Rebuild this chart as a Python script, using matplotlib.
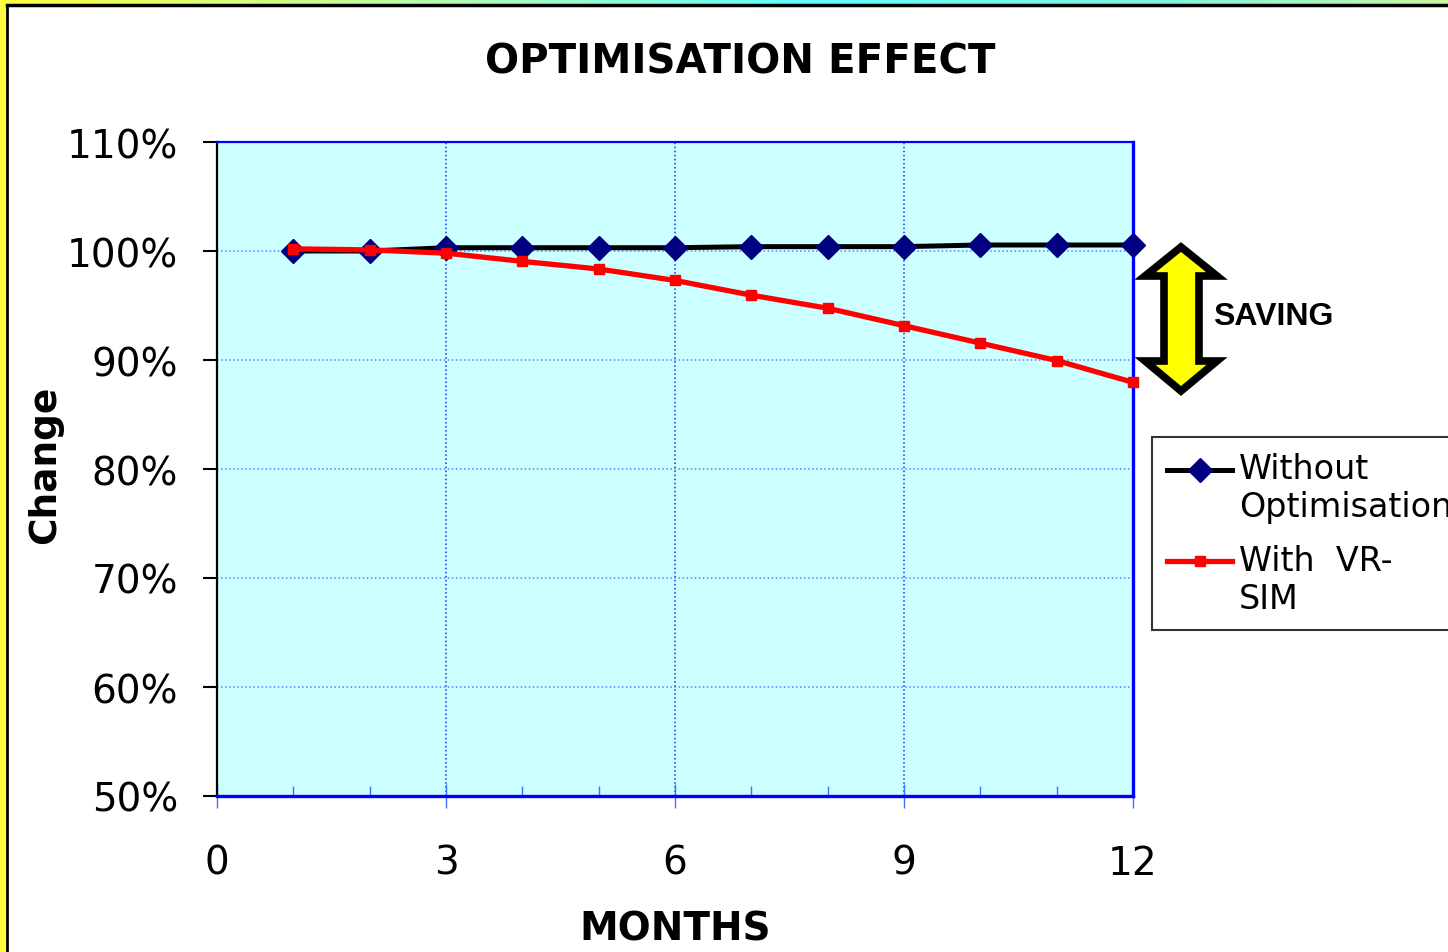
import numpy as np
import matplotlib
matplotlib.use('Agg')
import matplotlib.pyplot as plt
from matplotlib.patches import Polygon, Rectangle
from matplotlib.lines import Line2D
from matplotlib.ticker import PercentFormatter, MultipleLocator
from matplotlib.colors import LinearSegmentedColormap
from matplotlib.legend_handler import HandlerLine2D

# data
months = [1, 2, 3, 4, 5, 6, 7, 8, 9, 10, 11, 12]
without_opt = [100.0, 100.0, 100.3, 100.3, 100.3, 100.3, 100.4, 100.4, 100.4, 100.55, 100.55, 100.55]
with_vrsim = [100.2, 100.1, 99.8, 99.05, 98.35, 97.3, 95.95, 94.75, 93.15, 91.55, 89.95, 87.95]
x_ticks = [0, 3, 6, 9, 12]
y_ticks = [50, 60, 70, 80, 90, 100, 110]

W, H = 1448, 953


def px(x, y):
    # pixel position -> figure fraction
    return (x / W, 1 - y / H)


class TopLineHandler(HandlerLine2D):
    # put the legend line next to the first text line, not the middle
    def create_artists(self, legend, orig_handle, xdescent, ydescent,
                       width, height, fontsize, trans):
        arts = super().create_artists(legend, orig_handle, xdescent, ydescent,
                                      width, height, fontsize, trans)
        for a in arts:
            a.set_ydata(np.asarray(a.get_ydata()) + 0.58 * fontsize)
        return arts


def main():
    plt.rcParams['font.family'] = 'DejaVu Sans'
    fig = plt.figure(figsize=(W / 100, H / 100), dpi=100)
    fig.patch.set_facecolor('white')

    ax = fig.add_axes([217 / W, 1 - 797 / H, (1133 - 217) / W, (797 - 143) / H])
    ax.set_facecolor('#ccffff')

    ax.plot(months, without_opt, color='black', lw=3.6, marker='D', ms=12,
            mfc='#000080', mec='#000080', label='Without\nOptimisation', zorder=3, clip_on=False)
    ax.plot(months, with_vrsim, color='#ff0000', lw=3.8, marker='s', ms=6.5,
            mfc='#ff0000', mec='#ff0000', label='With  VR-\nSIM', zorder=4, clip_on=False)

    ax.set_xlim(0, 12)
    ax.set_ylim(50, 110)
    ax.set_xticks(x_ticks)
    ax.set_yticks(y_ticks)
    ax.xaxis.set_minor_locator(MultipleLocator(1))
    ax.yaxis.set_major_formatter(PercentFormatter(xmax=100, decimals=0))

    ax.grid(True, which='major', axis='x', color='#1030ff', ls=':', lw=1.1)
    ax.grid(True, which='major', axis='y', color='#6080ff', ls=':', lw=1.1)

    ax.tick_params(axis='y', which='major', direction='out', length=10, width=1.5,
                   color='black', labelsize=28, pad=18)
    ax.tick_params(axis='x', which='major', direction='inout', length=17, width=1,
                   color='#4070ff', labelsize=28, pad=26)
    ax.tick_params(axis='x', which='minor', direction='in', length=7, width=1,
                   color='#4070ff')

    ax.spines['left'].set_color('black')
    ax.spines['left'].set_linewidth(1.6)
    for s, lw in (('bottom', 2.4), ('right', 2.4), ('top', 1.6)):
        ax.spines[s].set_color('#0000ff')
        ax.spines[s].set_linewidth(lw)

    ax.set_xlabel('MONTHS', fontsize=28, fontweight='bold', labelpad=20)
    ax.set_ylabel('Change', fontsize=27, fontweight='bold')
    ax.yaxis.set_label_coords((63 - 217) / 916, (797 - 465) / 654)

    fig.text(740 / W, 1 - 63 / H, 'OPTIMISATION EFFECT', fontsize=29,
             fontweight='bold', ha='center', va='center')

    leg = ax.legend(loc='upper left', bbox_to_anchor=px(1152, 438),
                    bbox_transform=fig.transFigure, fontsize=24, frameon=True,
                    fancybox=False, edgecolor='black', handlelength=1.95,
                    handletextpad=0.2, borderaxespad=0, borderpad=0.45,
                    labelspacing=0.62,
                    handler_map={Line2D: TopLineHandler()})
    leg.get_frame().set_linewidth(1.5)

    # saving double arrow
    arrow_pts = [(1181, 248), (1217, 277), (1199, 277), (1199, 362), (1217, 362),
                 (1181, 392), (1145, 362), (1164, 362), (1164, 277), (1145, 277)]
    fig.patches.append(Polygon([px(x, y) for x, y in arrow_pts], closed=True,
                               transform=fig.transFigure, facecolor='#ffff00',
                               edgecolor='black', lw=5.5, joinstyle='miter'))
    fig.text(1213 / W, 1 - 317 / H, 'SAVING', fontsize=23, fontweight='bold',
             family='Liberation Sans', ha='left', va='center')

    # slide frame: yellow strip on the left, gradient strip on top
    fig.patches.append(Rectangle((0, 0), 6 / W, 1, transform=fig.transFigure,
                                 facecolor='#ffff40', edgecolor='none'))
    cmap = LinearSegmentedColormap.from_list(
        'top', [(0, '#ffff40'), (0.35, '#a8ffc0'), (0.55, '#60ffff'),
                (0.8, '#80f4e0'), (1.0, '#c8f8a0')])
    band = fig.add_axes([0, 1 - 5 / H, 1, 5 / H])
    band.imshow(np.linspace(0, 1, 256)[None, :], aspect='auto', cmap=cmap)
    band.axis('off')
    fig.lines.append(Line2D([7 / W, 7 / W], [0, 1 - 6 / H], transform=fig.transFigure,
                            color='black', lw=2))
    fig.lines.append(Line2D([7 / W, 1], [1 - 6 / H, 1 - 6 / H], transform=fig.transFigure,
                            color='black', lw=2.5))

    fig.savefig('out.png', dpi=100)


if __name__ == '__main__':
    main()
